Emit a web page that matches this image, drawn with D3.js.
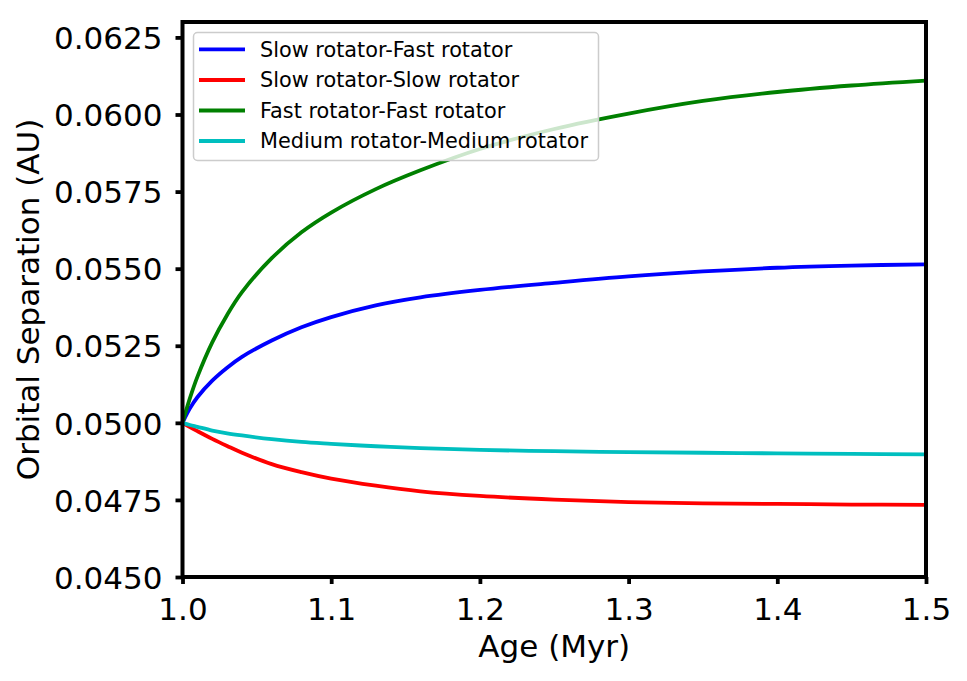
<!DOCTYPE html>
<html>
<head>
<meta charset="utf-8">
<script src="https://cdn.jsdelivr.net/npm/d3@7"></script>
<style>
  html, body { margin: 0; padding: 0; background: #fff; }
  svg { display: block; font-family: "DejaVu Sans", sans-serif; }
</style>
</head>
<body>
<svg id="chart" width="967" height="681"></svg>
<script>
// ---- data ----
const ages = [1.0, 1.005, 1.01, 1.02, 1.03, 1.04, 1.06, 1.08, 1.10, 1.13, 1.16, 1.20, 1.25, 1.30, 1.35, 1.40, 1.45, 1.50];
const slowFast = [0.05000, 0.05047, 0.05083, 0.05137, 0.05179, 0.05214, 0.05267, 0.05310, 0.05343, 0.05381, 0.05407, 0.05431, 0.05454, 0.05475, 0.05491, 0.05503, 0.05510, 0.05514];
const slowSlow = [0.05000, 0.04986, 0.04973, 0.04948, 0.04925, 0.04903, 0.04866, 0.04840, 0.04819, 0.04796, 0.04778, 0.04763, 0.04751, 0.04743, 0.04739, 0.04737, 0.04735, 0.04734];
const fastFast = [0.05000, 0.05080, 0.05149, 0.05261, 0.05350, 0.05424, 0.05534, 0.05618, 0.05682, 0.05758, 0.05819, 0.05888, 0.05953, 0.06003, 0.06044, 0.06073, 0.06094, 0.06110];
const medMed   = [0.05000, 0.04993, 0.04987, 0.04975, 0.04966, 0.04959, 0.04947, 0.04938, 0.04932, 0.04924, 0.04918, 0.04912, 0.04908, 0.04905, 0.04903, 0.04901, 0.04899, 0.04898];
const seriesNames = ["Slow rotator-Fast rotator", "Slow rotator-Slow rotator", "Fast rotator-Fast rotator", "Medium rotator-Medium rotator"];
const seriesColors = ["#0000ff", "#ff0000", "#008000", "#00bfbf"];
const xTicks = [1.0, 1.1, 1.2, 1.3, 1.4, 1.5];
const xTickLabels = ["1.0", "1.1", "1.2", "1.3", "1.4", "1.5"];
const yTicks = [0.0450, 0.0475, 0.0500, 0.0525, 0.0550, 0.0575, 0.0600, 0.0625];
const yTickLabels = ["0.0450", "0.0475", "0.0500", "0.0525", "0.0550", "0.0575", "0.0600", "0.0625"];
const xTitle = "Age (Myr)";
const yTitle = "Orbital Separation (AU)";

const allSeries = [slowFast, slowSlow, fastFast, medMed];

// ---- layout ----
const L = 182.5, R = 926, T = 22, B = 577;
const svg = d3.select("#chart");
const x = d3.scaleLinear().domain([1.0, 1.5]).range([L, R]);
const y = d3.scaleLinear().domain([0.045, 0.063]).range([B, T]);

svg.append("defs").append("clipPath").attr("id", "clip")
  .append("rect").attr("x", L).attr("y", T).attr("width", R - L).attr("height", B - T);

// lines
const line = d3.line().x(d => x(d[0])).y(d => y(d[1])).curve(d3.curveCatmullRom.alpha(0.5));
const gLines = svg.append("g").attr("clip-path", "url(#clip)");
allSeries.forEach((vals, i) => {
  gLines.append("path")
    .datum(ages.map((a, j) => [a, vals[j]]))
    .attr("d", line)
    .attr("fill", "none")
    .attr("stroke", seriesColors[i])
    .attr("stroke-width", 3.8)
    .attr("stroke-linejoin", "round")
    .attr("stroke-linecap", "butt");
});

// axes
const tickFont = 31;
const xAxis = d3.axisBottom(x).tickValues(xTicks).tickFormat((d, i) => xTickLabels[i])
  .tickSizeInner(7).tickSizeOuter(0).tickPadding(6);
const gx = svg.append("g").attr("transform", `translate(0,${B})`).call(xAxis);
gx.select(".domain").remove();
gx.selectAll(".tick line").attr("stroke", "#000").attr("stroke-width", 3.8);
gx.selectAll(".tick text").attr("font-size", tickFont).attr("fill", "#000")
  .attr("font-family", "DejaVu Sans").attr("dy", "0.97em");

const yAxis = d3.axisLeft(y).tickValues(yTicks).tickFormat((d, i) => yTickLabels[i])
  .tickSizeInner(7).tickSizeOuter(0).tickPadding(13);
const gy = svg.append("g").attr("transform", `translate(${L},0)`).call(yAxis);
gy.select(".domain").remove();
gy.selectAll(".tick line").attr("stroke", "#000").attr("stroke-width", 3.8);
gy.selectAll(".tick text").attr("font-size", tickFont).attr("fill", "#000")
  .attr("font-family", "DejaVu Sans").attr("dy", "0.36em");

// spines
svg.append("rect").attr("x", L).attr("y", T).attr("width", R - L).attr("height", B - T)
  .attr("fill", "none").attr("stroke", "#000").attr("stroke-width", 4);

// axis titles
svg.append("text").attr("x", (L + R) / 2).attr("y", 657).attr("text-anchor", "middle")
  .attr("font-size", 31).attr("fill", "#000").text(xTitle);
svg.append("text").attr("transform", `translate(39,${(T + B) / 2}) rotate(-90)`)
  .attr("text-anchor", "middle").attr("font-size", 31).attr("fill", "#000").text(yTitle);

// legend
const lg = svg.append("g");
lg.append("rect").attr("x", 193.5).attr("y", 32.5).attr("width", 405).attr("height", 128)
  .attr("rx", 4).attr("ry", 4)
  .attr("fill", "#fff").attr("fill-opacity", 0.8)
  .attr("stroke", "#cccccc").attr("stroke-width", 1.5);
const rowY = [49.3, 80, 110.5, 141];
seriesNames.forEach((name, i) => {
  lg.append("line").attr("x1", 199).attr("x2", 245).attr("y1", rowY[i]).attr("y2", rowY[i])
    .attr("stroke", seriesColors[i]).attr("stroke-width", 3.8);
  lg.append("text").attr("x", 260).attr("y", rowY[i]).attr("dy", "0.36em")
    .attr("font-size", 20.8).attr("fill", "#000").text(name);
});
</script>
</body>
</html>
